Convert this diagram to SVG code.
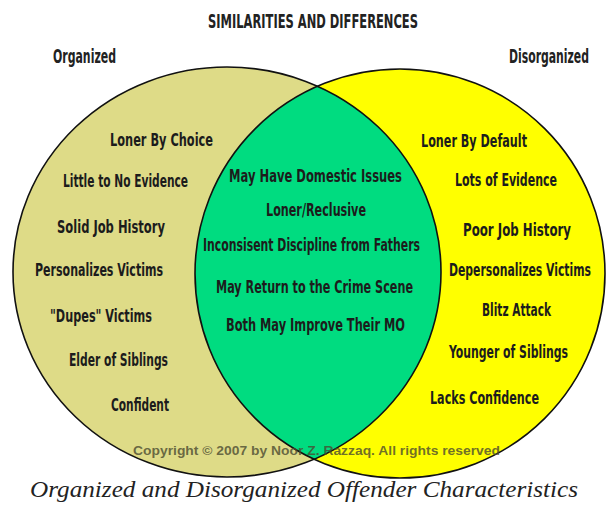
<svg xmlns="http://www.w3.org/2000/svg" width="608" height="509" viewBox="0 0 608 509">
<defs>
<clipPath id="clipLeft"><ellipse cx="227" cy="272" rx="214" ry="205"/></clipPath>
</defs>
<style>
.t{font-family:"Liberation Sans Narrow","DejaVu Sans Condensed","Liberation Sans",sans-serif;font-size:17px;fill:#1c1c1c;text-anchor:middle;font-weight:bold}
.hd{font-family:"Liberation Sans Narrow","DejaVu Sans Condensed","Liberation Sans",sans-serif;font-size:19px;fill:#222;text-anchor:middle;font-weight:bold}
.cp{font-family:"Liberation Sans",Arial,sans-serif;font-size:12px;font-weight:bold;fill:#4a4a30;fill-opacity:0.8;text-anchor:middle}
.cap{font-family:"Liberation Serif","Times New Roman",serif;font-style:italic;font-size:24px;fill:#222;text-anchor:middle}
.edge{fill:none;stroke:#111;stroke-width:1.6}
</style>
<rect width="608" height="509" fill="#ffffff"/>
<g id="titles">
<text class="hd" x="313" y="28" font-size="20" textLength="210" lengthAdjust="spacingAndGlyphs">SIMILARITIES AND DIFFERENCES</text>
<text class="hd" x="84.5" y="63" textLength="63" lengthAdjust="spacingAndGlyphs">Organized</text>
<text class="hd" x="549" y="63" textLength="80" lengthAdjust="spacingAndGlyphs">Disorganized</text>
</g>
<g id="node-organized">
<ellipse cx="227" cy="272" rx="214" ry="205" fill="#dedb87"/>
</g>
<g id="node-disorganized">
<ellipse cx="400" cy="273.5" rx="205" ry="204.5" fill="#ffff00"/>
</g>
<g id="node-both">
<ellipse cx="400" cy="273.5" rx="205" ry="204.5" fill="#00dc80" clip-path="url(#clipLeft)"/>
</g>
<g id="connectors">
<ellipse class="edge" cx="227" cy="272" rx="214" ry="205"/>
<ellipse class="edge" cx="400" cy="273.5" rx="205" ry="204.5"/>
</g>
<g id="organized-text">
<text class="t" x="161.5" y="146" textLength="103" lengthAdjust="spacingAndGlyphs">Loner By Choice</text>
<text class="t" x="125.5" y="187" textLength="125" lengthAdjust="spacingAndGlyphs">Little to No Evidence</text>
<text class="t" x="111" y="233" textLength="108" lengthAdjust="spacingAndGlyphs">Solid Job History</text>
<text class="t" x="99" y="276" textLength="128" lengthAdjust="spacingAndGlyphs">Personalizes Victims</text>
<text class="t" x="101" y="322" textLength="102" lengthAdjust="spacingAndGlyphs">"Dupes" Victims</text>
<text class="t" x="118.5" y="366" textLength="99" lengthAdjust="spacingAndGlyphs">Elder of Siblings</text>
<text class="t" x="140" y="411" textLength="58" lengthAdjust="spacingAndGlyphs">Confident</text>
</g>
<g id="both-text">
<text class="t" x="315.5" y="182" textLength="173" lengthAdjust="spacingAndGlyphs">May Have Domestic Issues</text>
<text class="t" x="316" y="216" textLength="100" lengthAdjust="spacingAndGlyphs">Loner/Reclusive</text>
<text class="t" x="311.5" y="251" textLength="217" lengthAdjust="spacingAndGlyphs">Inconsisent Discipline from Fathers</text>
<text class="t" x="314.5" y="293" textLength="197" lengthAdjust="spacingAndGlyphs">May Return to the Crime Scene</text>
<text class="t" x="315.5" y="331" textLength="179" lengthAdjust="spacingAndGlyphs">Both May Improve Their MO</text>
</g>
<g id="disorganized-text">
<text class="t" x="474" y="147" textLength="106" lengthAdjust="spacingAndGlyphs">Loner By Default</text>
<text class="t" x="506" y="186" textLength="102" lengthAdjust="spacingAndGlyphs">Lots of Evidence</text>
<text class="t" x="517" y="236" textLength="108" lengthAdjust="spacingAndGlyphs">Poor Job History</text>
<text class="t" x="520" y="276" textLength="142" lengthAdjust="spacingAndGlyphs">Depersonalizes Victims</text>
<text class="t" x="516.5" y="316" textLength="69" lengthAdjust="spacingAndGlyphs">Blitz Attack</text>
<text class="t" x="508.5" y="358" textLength="119" lengthAdjust="spacingAndGlyphs">Younger of Siblings</text>
<text class="t" x="484.5" y="404" textLength="109" lengthAdjust="spacingAndGlyphs">Lacks Confidence</text>
</g>
<g id="footer">
<text class="cp" x="316.5" y="455" textLength="367" lengthAdjust="spacingAndGlyphs">Copyright © 2007  by Noor Z. Razzaq. All rights reserved</text>
<text class="cap" x="304" y="497" textLength="548" lengthAdjust="spacingAndGlyphs">Organized and Disorganized Offender Characteristics</text>
</g>
</svg>
